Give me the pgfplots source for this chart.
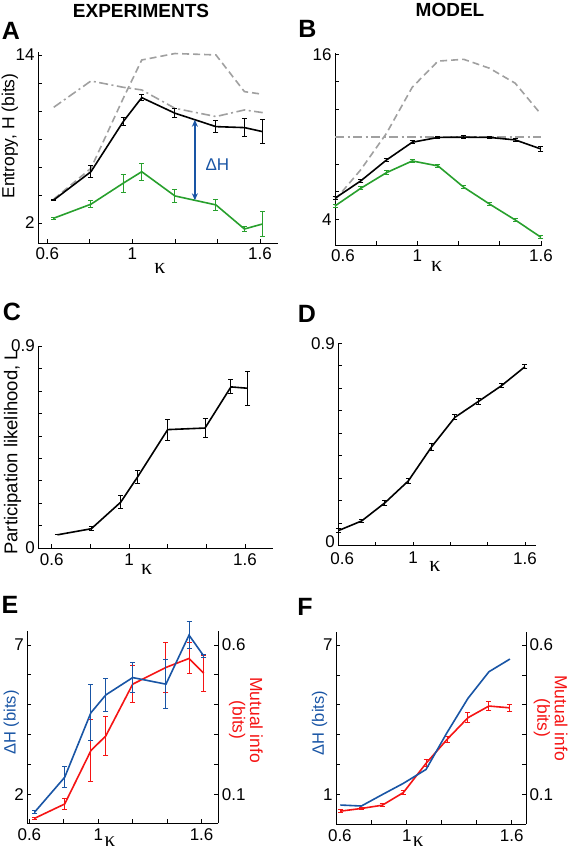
\documentclass[border=0pt]{standalone}
\usepackage{pgfplots}
\pgfplotsset{compat=1.18}
\usepackage{fontspec}
\setmainfont{Liberation Sans}
\newfontfamily\grk{Liberation Serif}
\usetikzlibrary{arrows.meta}
\definecolor{mgreen}{RGB}{40,160,45}
\definecolor{mgray}{RGB}{160,160,160}
\definecolor{mblue}{RGB}{25,85,165}
\definecolor{mred}{RGB}{245,20,20}
\newcommand\fs[1]{\fontsize{#1}{#1}\selectfont}
\pgfplotsset{
  panel/.style={
    scale only axis, clip=false, anchor=south west,
    axis x line=bottom, axis y line=left,
    axis line style={-, line width=0.8pt},
    tick align=inside, major tick length=4pt,
    tick style={line width=0.8pt, black},
    /pgf/number format/assume math mode=true,
    tick label style={font=\fs{17}},
    xticklabel style={yshift=-1.5pt},
    xtick={0.6,0.8,1,1.2,1.4,1.6}, xticklabels={0.6,,1,,,1.6},
    minor tick num=0,
    xlabel={\grk κ},
    xlabel style={font=\fs{22}, anchor=center, inner sep=0pt},
    ylabel style={anchor=center, inner sep=0pt},
    every axis plot/.append style={line width=1.6pt},
  },
  rpanel/.style={
    scale only axis, clip=false, anchor=south west,
    axis x line=none, axis y line=right,
    axis line style={-, line width=0.8pt},
    tick align=inside, major tick length=4pt,
    tick style={line width=0.8pt, black},
    tick label style={font=\fs{17}},
    xtick=\empty, minor tick num=0,
    ytick={0.1,0.2,0.3,0.4,0.5,0.6}, yticklabels={0.1,,,,,0.6},
    every axis plot/.append style={line width=1.6pt},
  },
  eb/.style={error bars/.cd, y dir=both, y explicit,
    error bar style={line width=1pt},
    error mark options={rotate=90, line width=1pt, mark size=2.5pt}},
}
\begin{document}
\begin{tikzpicture}
% ---------- titles and panel letters
\node[font=\bfseries\fs{19}] at (141pt,842.5pt) {EXPERIMENTS};
\node[font=\bfseries\fs{19}] at (450pt,843.5pt) {MODEL};
\node[font=\bfseries\fs{25}] at (11pt,822.5pt) {A};
\node[font=\bfseries\fs{25}] at (307.5pt,824.5pt) {B};
\node[font=\bfseries\fs{25}] at (12pt,541pt) {C};
\node[font=\bfseries\fs{25}] at (307pt,539pt) {D};
\node[font=\bfseries\fs{25}] at (10pt,248pt) {E};
\node[font=\bfseries\fs{25}] at (305pt,246pt) {F};

% ---------- A
\begin{axis}[panel, at={(38pt,610pt)}, width=240pt, height=191pt,
  xmin=0.556, xmax=1.685, ymin=0.57, ymax=14.21,
  ytick={2,4,6,8,10,12,14}, yticklabels={2,,,,,,14},
  ylabel={Entropy, H (bits)},
  ylabel style={font=\fs{17.5}, at={(axis description cs:-0.117,0.56)}},
  xlabel style={at={(axis description cs:0.508,-0.131)}}]
\addplot[mgray, dash pattern=on 7pt off 4pt] table {
0.63 3.7
0.805 5.9
0.957 10.9
1.044 13.64
1.2 14.1
1.393 14.0
1.527 11.38
1.613 11.19
};
\addplot[mgray, dash pattern=on 9pt off 3.5pt on 2pt off 3.5pt] table {
0.63 10.26
0.805 12.14
0.957 11.69
1.044 11.5
1.2 10.19
1.393 9.6
1.527 10.07
1.613 9.88
};
\addplot[black, eb] table[y error index=2] {
0.63 3.64 0.05
0.805 5.66 0.42
0.957 9.24 0.3
1.044 10.95 0.2
1.2 9.84 0.3
1.393 8.88 0.45
1.527 8.81 0.62
1.613 8.52 0.88
};
\addplot[mgreen, eb] table[y error index=2] {
0.63 2.34 0.08
0.805 3.34 0.26
0.957 4.84 0.65
1.044 5.66 0.62
1.2 3.93 0.48
1.393 3.29 0.38
1.527 1.57 0.18
1.613 1.93 0.89
};
\draw[mblue, line width=1.5pt, {Stealth[length=7pt,width=6pt]}-{Stealth[length=7pt,width=6pt]}] (axis cs:1.294,9.37) -- (axis cs:1.294,3.62);
\node[mblue, font=\fs{17}, inner sep=0pt] at (axis cs:1.40,6.14) {ΔH};
\end{axis}

% ---------- B
\begin{axis}[panel, at={(335pt,608pt)}, width=207pt, height=192pt,
  xmin=0.6, xmax=1.605, ymin=2.13, ymax=16.09,
  ytick={4,6,8,10,12,14,16}, yticklabels={4,,,,,,16},
  xticklabels={\hspace*{16pt}0.6,,1,,,1.6},
  xlabel style={at={(axis description cs:0.491,-0.113)}}]
\addplot[mgray, dash pattern=on 7pt off 4pt] table {
0.6 5.4
0.725 7.6
0.85 10.25
0.975 13.6
1.1 15.5
1.225 15.63
1.35 14.98
1.475 13.89
1.6 11.64
};
\addplot[mgray, dash pattern=on 9pt off 3.5pt on 2pt off 3.5pt] table {
0.6 10.0
0.725 10.0
0.85 10.0
0.975 10.0
1.1 10.0
1.225 10.0
1.35 10.0
1.475 10.0
1.6 10.0
};
\addplot[black, eb] table[y error index=2] {
0.6 5.53 0.12
0.725 6.79 0.12
0.85 8.31 0.12
0.975 9.6 0.12
1.1 9.95 0.1
1.225 9.97 0.1
1.35 9.95 0.1
1.475 9.77 0.1
1.6 9.11 0.15
};
\addplot[mgreen, eb] table[y error index=2] {
0.6 4.97 0.12
0.725 6.25 0.12
0.85 7.39 0.12
0.975 8.24 0.12
1.1 7.88 0.12
1.225 6.33 0.12
1.35 5.11 0.12
1.475 3.95 0.12
1.6 2.69 0.12
};
\end{axis}

% ---------- C
\begin{axis}[panel, at={(38.3pt,304.7pt)}, width=235pt, height=202.3pt,
  xmin=0.531, xmax=1.746, ymin=0, ymax=0.9,
  ytick={0,0.1,0.2,0.3,0.4,0.5,0.6,0.7,0.8,0.9}, yticklabels={\raisebox{2pt}{0},,,,,,,,,0.9},
  ylabel={Participation likelihood, L},
  ylabel style={font=\fs{18.5}, at={(axis description cs:-0.109,0.474)}},
  xlabel style={at={(axis description cs:0.461,-0.107)}}]
\addplot[black, eb] table[y error index=2] {
0.63 0.060 0.0
0.805 0.087 0.008
0.957 0.205 0.030
1.044 0.317 0.028
1.2 0.528 0.047
1.393 0.535 0.042
1.527 0.718 0.031
1.613 0.712 0.075
};
\end{axis}

% ---------- D
\begin{axis}[panel, at={(338.3pt,307.3pt)}, width=197.7pt, height=202.4pt,
  xmin=0.6, xmax=1.659, ymin=0, ymax=0.9,
  ytick={0,0.1,0.2,0.3,0.4,0.5,0.6,0.7,0.8,0.9}, yticklabels={\raisebox{8pt}{0},,,,,,,,,0.9},
  xticklabels={\hspace*{8pt}0.6,,1,,,1.6},
  xticklabel style={yshift=-1.5pt},
  xlabel style={at={(axis description cs:0.489,-0.104)}}]
\addplot[black, eb] table[y error index=2] {
0.6 0.067 0.008
0.725 0.110 0.008
0.85 0.191 0.012
0.975 0.288 0.01
1.1 0.440 0.015
1.225 0.571 0.012
1.35 0.641 0.015
1.475 0.712 0.008
1.6 0.796 0.008
};
\end{axis}

% ---------- E (right axis, red)
\begin{axis}[rpanel, at={(27.3pt,29.7pt)}, width=191pt, height=192.6pt,
  xmin=0.588, xmax=1.697, ymin=0.003, ymax=0.648]
\addplot[mred, eb] table[y error index=2] {
0.63 0.0196 0.004
0.805 0.0676 0.018
0.957 0.246 0.103
1.044 0.296 0.066
1.2 0.469 0.062
1.393 0.525 0.084
1.527 0.555 0.052
1.613 0.505 0.061
};
\node[rotate=-90, align=center, text=mred, font=\fs{17.5}, inner sep=0pt] at (rel axis cs:1.145,0.536) {Mutual info\\(bits)};
\end{axis}
% ---------- E (left axis, blue)
\begin{axis}[panel, at={(27.3pt,29.7pt)}, width=191pt, height=192.6pt,
  xmin=0.588, xmax=1.697, ymin=1.03, ymax=7.48,
  ytick={2,3,4,5,6,7}, yticklabels={2,,,,,7},
  ylabel={ΔH (bits)},
  ylabel style={font=\fs{16.5}, text=mblue, at={(axis description cs:-0.083,0.523)}},
  xlabel style={font=\fs{21}, at={(axis description cs:0.433,-0.097)}}]
\addplot[mblue, eb] table[y error index=2] {
0.63 1.40 0.05
0.805 2.57 0.35
0.957 4.73 0.94
1.044 5.33 0.55
1.2 5.91 0.5
1.393 5.69 0.81
1.527 7.33 0.46
1.613 6.63 0.05
};
\end{axis}

% ---------- F (right axis, red)
\begin{axis}[rpanel, at={(336pt,28.7pt)}, width=190pt, height=192.6pt,
  xmin=0.595, xmax=1.682, ymin=0, ymax=0.645]
\addplot[mred, eb] table[y error index=2] {
0.62 0.044 0.004
0.74 0.053 0.004
0.86 0.064 0.004
0.98 0.106 0.006
1.11 0.204 0.012
1.23 0.284 0.01
1.35 0.357 0.017
1.47 0.396 0.014
1.59 0.39 0.011
};
\node[rotate=-90, align=center, text=mred, font=\fs{17.5}, inner sep=0pt] at (rel axis cs:1.13,0.552) {Mutual info\\(bits)};
\end{axis}
% ---------- F (left axis, blue)
\begin{axis}[panel, at={(336pt,28.7pt)}, width=190pt, height=192.6pt,
  xmin=0.595, xmax=1.682, ymin=-0.205, ymax=7.54,
  ytick={1,2.2,3.4,4.6,5.8,7}, yticklabels={1,,,,,7},
  xticklabels={\hspace*{6pt}0.6,,1,,,1.6},
  ylabel={ΔH (bits)},
  ylabel style={font=\fs{16.5}, text=mblue, at={(axis description cs:-0.086,0.526)}},
  xlabel style={font=\fs{21}, at={(axis description cs:0.432,-0.092)}}]
\addplot[mblue] table {
0.62 0.57
0.74 0.53
0.86 0.99
0.98 1.44
1.11 2.0
1.23 3.48
1.35 4.86
1.47 5.93
1.59 6.44
};
\end{axis}

\pgfresetboundingbox
\path[use as bounding box] (0pt,0pt) rectangle (574pt,853pt);
\end{tikzpicture}
\end{document}
